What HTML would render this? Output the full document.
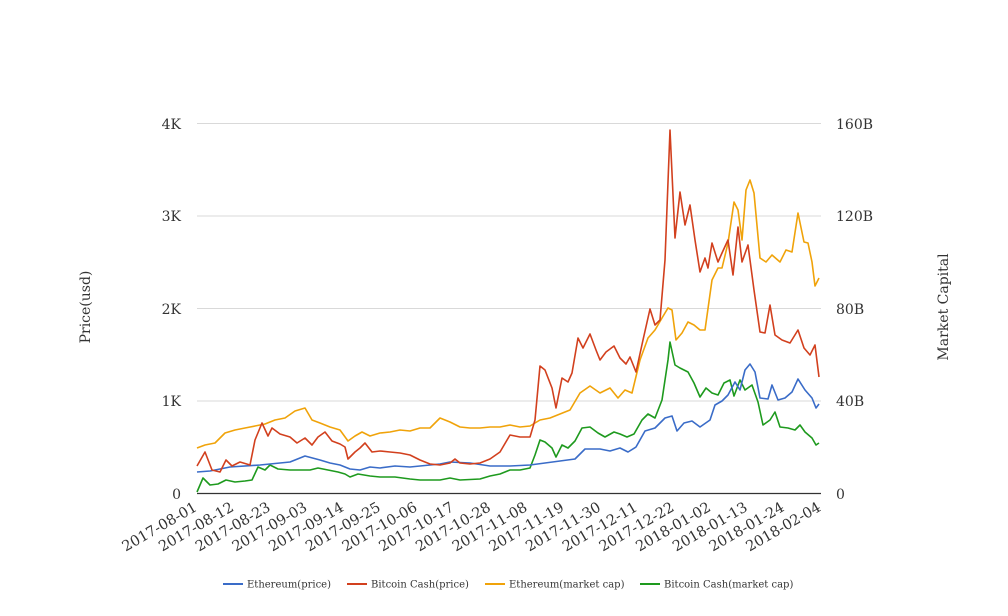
<!DOCTYPE html>
<html><head><meta charset="utf-8"><style>body{margin:0;background:#fff}svg{display:block}text{font-family:"DejaVu Serif","Liberation Serif",serif;fill:#333}</style></head><body>
<svg width="1008" height="616" viewBox="0 0 1008 616">
<g stroke="#d9d9d9" stroke-width="1">
<line x1="197" y1="123.5" x2="821" y2="123.5"/><line x1="197" y1="216" x2="821" y2="216"/><line x1="197" y1="308.5" x2="821" y2="308.5"/><line x1="197" y1="401" x2="821" y2="401"/>
</g>
<line x1="197" y1="493.5" x2="821" y2="493.5" stroke="#333" stroke-width="1.2"/>
<g font-size="14" text-anchor="end">
<text x="181" y="129">4K</text><text x="181" y="221">3K</text><text x="181" y="314">2K</text><text x="181" y="406">1K</text><text x="181" y="499">0</text>
</g>
<g font-size="14">
<text x="836" y="129">160B</text><text x="836" y="221">120B</text><text x="836" y="314">80B</text><text x="836" y="406">40B</text><text x="836" y="499">0</text>
</g>
<text font-size="14" transform="translate(90,307) rotate(-90)" text-anchor="middle">Price(usd)</text>
<text font-size="14" transform="translate(948,307) rotate(-90)" text-anchor="middle">Market Capital</text>
<g font-size="14.5" text-anchor="end">
<text transform="translate(198,510) rotate(-30)">2017-08-01</text>
<text transform="translate(234.7,510) rotate(-30)">2017-08-12</text>
<text transform="translate(271.4,510) rotate(-30)">2017-08-23</text>
<text transform="translate(308.1,510) rotate(-30)">2017-09-03</text>
<text transform="translate(344.8,510) rotate(-30)">2017-09-14</text>
<text transform="translate(381.5,510) rotate(-30)">2017-09-25</text>
<text transform="translate(418.2,510) rotate(-30)">2017-10-06</text>
<text transform="translate(454.9,510) rotate(-30)">2017-10-17</text>
<text transform="translate(491.6,510) rotate(-30)">2017-10-28</text>
<text transform="translate(528.3,510) rotate(-30)">2017-11-08</text>
<text transform="translate(565,510) rotate(-30)">2017-11-19</text>
<text transform="translate(601.7,510) rotate(-30)">2017-11-30</text>
<text transform="translate(638.4,510) rotate(-30)">2017-12-11</text>
<text transform="translate(675.1,510) rotate(-30)">2017-12-22</text>
<text transform="translate(711.8,510) rotate(-30)">2018-01-02</text>
<text transform="translate(748.5,510) rotate(-30)">2018-01-13</text>
<text transform="translate(785.2,510) rotate(-30)">2018-01-24</text>
<text transform="translate(821.9,510) rotate(-30)">2018-02-04</text>
</g>
<g fill="none" stroke-width="1.6" stroke-linejoin="round">
<polyline stroke="#f0a30a" points="197,448 205,445 215,443 225,433 235,430 245,428 255,426 265,424 275,420 285,418 295,411 305,408 312,420 320,423 330,427 340,430 348,441 355,436 362,432 370,436 380,433 390,432 400,430 410,431 420,428 430,428 440,418 450,422 460,427 470,428 480,428 490,427 500,427 510,425 520,427 530,426 540,420 550,418 560,414 570,410 580,393 590,386 600,393 610,388 618,398 625,390 632,393 640,360 648,338 655,330 662,318 668,308 672,310 676,340 682,333 688,322 694,325 700,330 705,330 712,280 718,268 722,268 728,243 734,202 738,210 742,240 746,190 750,180 754,193 760,258 766,262 772,255 780,262 786,250 792,252 798,213 804,242 808,243 812,262 815,286 819,278"/>
<polyline stroke="#1e9a1e" points="197,492 203,478 210,485 218,484 226,480 235,482 245,481 252,480 258,467 265,470 270,465 278,469 290,470 300,470 310,470 318,468 328,470 338,472 345,474 350,477 358,474 370,476 380,477 395,477 410,479 420,480 440,480 450,478 460,480 480,479 490,476 500,474 510,470 520,470 530,468 535,455 540,440 545,442 552,448 556,457 562,445 568,448 575,441 582,428 590,427 598,433 605,437 614,432 620,434 627,437 634,434 642,420 648,414 655,418 662,400 668,360 670,342 675,365 680,368 688,372 694,383 700,397 706,388 712,393 718,395 724,383 730,380 734,396 740,380 745,390 752,385 758,402 763,425 770,420 775,412 780,427 788,428 795,430 800,425 805,432 812,438 816,445 819,443"/>
<polyline stroke="#3a6cc8" points="197,472 210,471 230,467 260,465 290,462 300,458 305,456 320,460 330,463 340,465 350,469 360,470 370,467 380,468 395,466 410,467 420,466 430,465 440,464 450,462 470,463 490,466 510,466 530,465 545,463 560,461 575,459 585,449 600,449 610,451 620,448 628,452 636,447 645,431 655,428 665,418 672,416 677,431 684,423 692,421 700,427 710,420 715,405 722,401 728,395 735,382 740,390 745,370 750,364 755,372 760,398 768,399 772,385 778,400 785,398 792,392 798,379 805,390 812,398 816,408 819,404"/>
<polyline stroke="#d2401e" points="197,466 205,452 212,470 220,472 226,460 232,466 240,462 250,465 255,440 262,423 268,436 272,428 280,434 290,437 297,443 305,438 312,445 318,437 325,432 332,441 340,444 345,447 348,459 355,452 360,448 365,443 372,452 380,451 390,452 400,453 410,455 420,460 430,464 440,465 450,463 455,459 460,463 470,464 480,463 490,459 500,452 510,435 520,437 530,437 535,420 540,366 545,370 552,388 556,408 562,378 568,382 572,373 578,338 583,348 590,334 596,350 600,360 606,352 614,346 620,358 626,364 630,357 636,372 643,340 650,309 655,325 660,320 665,260 670,130 675,238 680,192 685,225 690,205 695,240 700,272 705,258 708,268 712,243 718,262 722,253 728,240 733,275 738,227 742,262 748,245 754,290 760,332 765,333 770,305 775,335 782,340 790,343 798,330 804,348 810,355 815,345 819,377"/>
</g>
<g font-size="10" stroke-width="2">
<line x1="223" y1="584" x2="243" y2="584" stroke="#3a6cc8"/><text x="247" y="587.5">Ethereum(price)</text>
<line x1="347" y1="584" x2="367" y2="584" stroke="#d2401e"/><text x="371" y="587.5">Bitcoin Cash(price)</text>
<line x1="485" y1="584" x2="505" y2="584" stroke="#f0a30a"/><text x="509" y="587.5">Ethereum(market cap)</text>
<line x1="640" y1="584" x2="660" y2="584" stroke="#1e9a1e"/><text x="664" y="587.5">Bitcoin Cash(market cap)</text>
</g>
</svg>
</body></html>
